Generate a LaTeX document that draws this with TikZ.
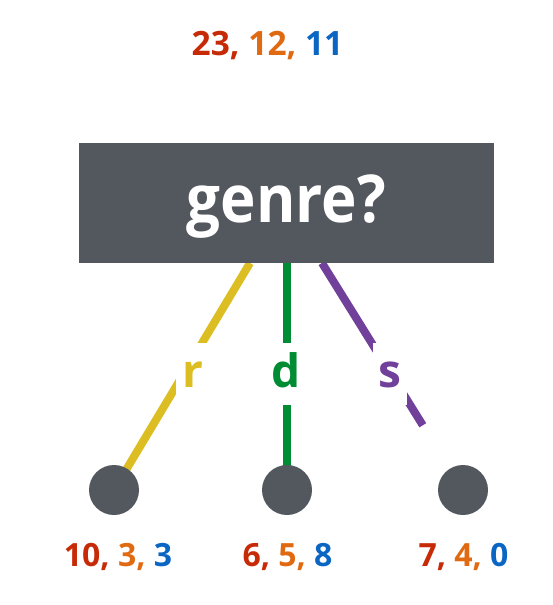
\documentclass[tikz,border=0pt]{standalone}
\usepackage{fontspec}
\setmainfont{Open Sans}
\newfontfamily\narrowfont[FakeStretch=0.91]{Open Sans}
\usetikzlibrary{backgrounds}
\definecolor{boxgray}{HTML}{53575E}
\definecolor{cred}{HTML}{C62A06}
\definecolor{corange}{HTML}{E06A12}
\definecolor{cblue}{HTML}{0A66C2}
\definecolor{cyellow}{HTML}{DCBE22}
\definecolor{cgreen}{HTML}{008C32}
\definecolor{cpurple}{HTML}{71409B}
\tikzset{
  qbox/.style={fill=boxgray, text=white, minimum width=415pt, minimum height=120pt, inner sep=0pt,
    font=\narrowfont\fontsize{66}{70}\selectfont\bfseries, text height=38pt, text depth=0pt},
  leaf/.style={circle, fill=boxgray, minimum size=50pt, inner sep=0pt},
  count/.style={inner sep=0pt, font=\fontsize{32}{36}\selectfont\bfseries, text height=23pt, text depth=0pt},
  topcount/.style={count, font=\fontsize{33.5}{38}\selectfont\bfseries, text height=24pt},
  edgelab/.style={fill=white, inner sep=0pt, minimum width=34pt, minimum height=62pt,
    font=\fontsize{46}{50}\selectfont\bfseries, text height=26pt, text depth=0pt},
  branch/.style={line width=8pt, line cap=butt}
}
\begin{document}
\begin{tikzpicture}[x=1pt,y=-1pt]
\useasboundingbox (0,0) rectangle (552,605);
\node[topcount] (top) at (267.5,43) {\textcolor{cred}{23,} \textcolor{corange}{12,} \textcolor{cblue}{11}};
\node[qbox] (genre) at (286.5,203) {genre?};
\coordinate (ry) at (250,263);
\coordinate (rg) at (287,263);
\coordinate (rp) at (322,263);
\node[leaf] (l1) at (114,490) {};
\node[leaf] (l2) at (287,490) {};
\node[leaf] (l3) at (463,490) {};
\node[edgelab, text=cyellow] (lr) at (193,374) {r};
\node[edgelab, text=cgreen] (ld) at (286,374) {d};
\node[edgelab, text=cpurple] (ls) at (389.5,374) {s};
\begin{pgfonlayer}{background}
\draw[branch, cyellow] (ry) -- (l1.center);
\draw[branch, cgreen] (rg) -- (l2.center);
\draw[branch, cpurple, shorten >=51pt] (rp) -- (l3);
\end{pgfonlayer}
\node[count] (c1) at (118,554.5) {\textcolor{cred}{10,} \textcolor{corange}{3,} \textcolor{cblue}{3}};
\node[count] (c2) at (287.5,554.5) {\textcolor{cred}{6,} \textcolor{corange}{5,} \textcolor{cblue}{8}};
\node[count] (c3) at (463.5,554.5) {\textcolor{cred}{7,} \textcolor{corange}{4,} \textcolor{cblue}{0}};
\end{tikzpicture}
\end{document}
